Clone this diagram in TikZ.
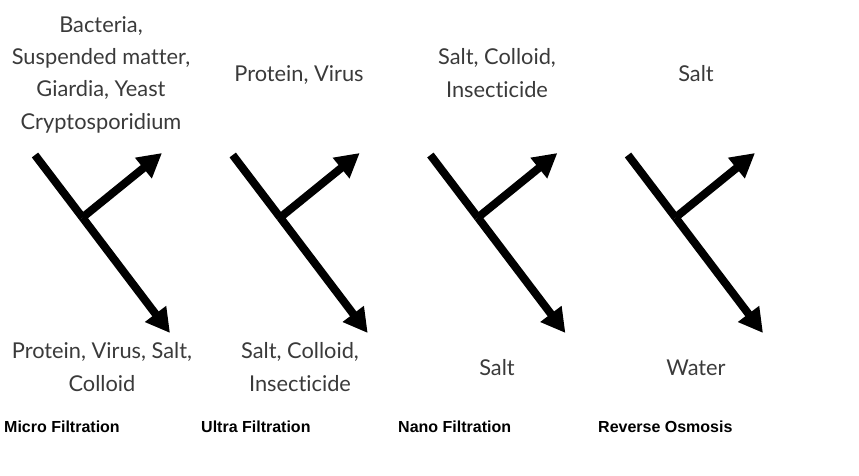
\documentclass[tikz,border=0pt]{standalone}
\usepackage{fontspec}
\setmainfont{Lato}[Ligatures={NoCommon}]
\newfontfamily\labfont{Liberation Sans}
\usetikzlibrary{arrows.meta}
\definecolor{txtgray}{RGB}{58,58,58}
\tikzset{
  flow/.style={line width=8pt, black, -{Triangle[length=24pt,width=25pt]}},
  feed/.style={line width=8pt, black},
  item/.style={font=\fontsize{21.8}{32.3}\selectfont, text=txtgray, align=center, anchor=base, inner sep=0pt},
  method/.style={font=\labfont\bfseries\fontsize{16}{18}\selectfont, text=black, anchor=base west, inner sep=0pt},
}
\begin{document}
\begin{tikzpicture}[x=1pt,y=-1pt]
\useasboundingbox (0,0) rectangle (859,475);
\foreach \i/\dx in {1/0,2/197.7,3/395.4,4/593}{
  \coordinate (s\i) at (35+\dx,155);
  \coordinate (j\i) at (82.5+\dx,217.5);
  \coordinate (d\i) at (170+\dx,333);
  \coordinate (u\i) at (162+\dx,153);
  \draw[feed] (s\i) -- (j\i);
  \draw[flow] (j\i) -- (d\i);
  \draw[flow] (j\i) -- (u\i);
}
% top texts (anchored at the baseline of the last line)
\node[item] (t1) at (101,129) {Bacteria,\\Suspended matter,\\Giardia, Yeast\\Cryptosporidium};
\node[item] (t2) at (299,81) {Protein, Virus};
\node[item] (t3) at (497,97) {Salt, Colloid,\\Insecticide};
\node[item] (t4) at (696,81) {Salt};
% bottom texts
\node[item] (b1) at (102,391) {Protein, Virus, Salt,\\Colloid};
\node[item] (b2) at (300,391) {Salt, Colloid,\\Insecticide};
\node[item] (b3) at (497,375) {Salt};
\node[item] (b4) at (696,375) {Water};
% labels
\node[method] (m1) at (4,432) {Micro Filtration};
\node[method] (m2) at (201,432) {Ultra Filtration};
\node[method] (m3) at (398,432) {Nano Filtration};
\node[method] (m4) at (598,432) {Reverse Osmosis};
\end{tikzpicture}
\end{document}
